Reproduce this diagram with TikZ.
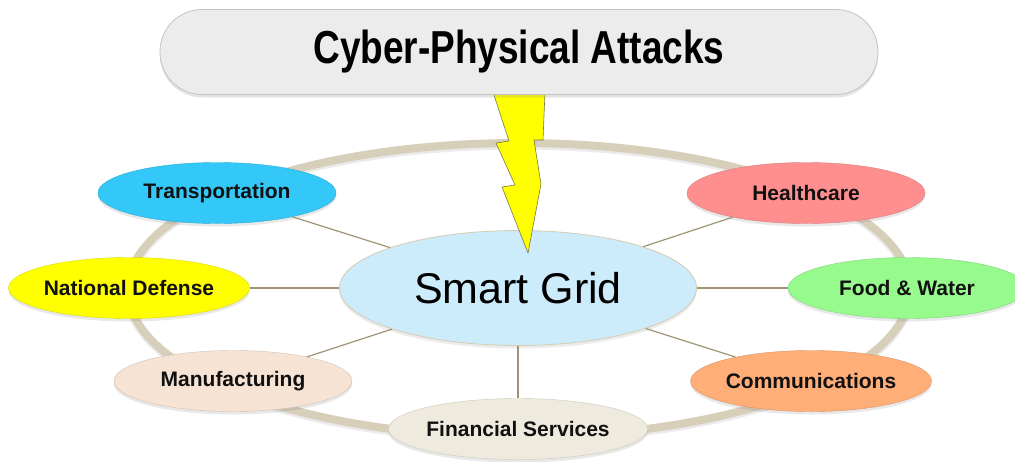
\documentclass[tikz,border=0pt]{standalone}
\usepackage{fontspec}
\usepackage{graphicx}
\setmainfont{Liberation Sans}
\usetikzlibrary{shapes.geometric,shadows}
\definecolor{ringc}{RGB}{216,207,186}
\definecolor{connc}{RGB}{160,148,118}
\definecolor{sgfill}{RGB}{204,235,251}
\definecolor{sgdraw}{RGB}{214,204,178}
\definecolor{trfill}{RGB}{51,200,248}
\definecolor{ndfill}{RGB}{255,255,0}
\definecolor{mafill}{RGB}{247,227,211}
\definecolor{fsfill}{RGB}{239,234,222}
\definecolor{hcfill}{RGB}{255,143,143}
\definecolor{fwfill}{RGB}{150,250,140}
\definecolor{cofill}{RGB}{255,174,120}
\definecolor{boltfill}{RGB}{255,255,0}
\definecolor{boltdraw}{RGB}{120,120,70}
\definecolor{pillfill}{RGB}{236,236,236}
\definecolor{pilldraw}{RGB}{195,195,195}
\definecolor{txt}{RGB}{17,17,17}
\tikzset{
  sat/.style={ellipse, minimum width=238pt, minimum height=61pt, inner sep=0pt,
    draw=#1!85!black, line width=0.4pt, fill=#1, text=txt,
    font=\bfseries\fontsize{21}{24}\selectfont,
    drop shadow={opacity=0.18, shadow xshift=0pt, shadow yshift=-3pt}},
  hub/.style={ellipse, minimum width=357pt, minimum height=115pt, inner sep=0pt,
    draw=sgdraw, line width=0.8pt, fill=sgfill, text=black,
    font=\fontsize{43}{48}\selectfont,
    drop shadow={opacity=0.15, shadow xshift=0pt, shadow yshift=-3pt}},
  conn/.style={draw=connc, line width=1.2pt},
  ringline/.style={draw=ringc, line width=8pt},
  boltshape/.style={fill=boltfill, draw=boltdraw, line width=0.6pt, line join=miter},
  pill/.style={rectangle, rounded corners=42pt, minimum width=718pt, minimum height=85pt,
    inner sep=0pt, fill=pillfill, draw=pilldraw, line width=0.8pt, text=black,
    font=\bfseries\fontsize{37}{42}\selectfont,
    drop shadow={opacity=0.2, shadow xshift=0pt, shadow yshift=-3pt}}
}
\begin{document}
\begin{tikzpicture}[x=1pt,y=-1pt]
\useasboundingbox (0,0) rectangle (1015,461);
\fill[white] (0,0) rectangle (1015,461);
% ring
\draw[draw=black, opacity=0.08, line width=9pt] (519,292) ellipse [x radius=391, y radius=147];
\draw[ringline] (519,290) ellipse [x radius=391, y radius=147];
% nodes
\node[hub] (sg) at (518,288) {Smart Grid};
\node[sat=trfill] (tr) at (217,193) {Transportation};
\node[sat=ndfill] (nd) at (129,288) {National Defense};
\node[sat=mafill] (ma) at (233,381) {Manufacturing};
\node[sat=fsfill] (fs) at (518,429) {Financial Services};
\node[sat=hcfill] (hc) at (806,193) {Healthcare};
\node[sat=fwfill] (fw) at (907,288) {Food \& Water};
\node[sat=cofill] (co) at (811,381) {Communications};
% connectors
\draw[conn] (sg) -- (tr);
\draw[conn] (sg) -- (nd);
\draw[conn] (sg) -- (ma);
\draw[conn] (sg) -- (fs);
\draw[conn] (sg) -- (hc);
\draw[conn] (sg) -- (fw);
\draw[conn] (sg) -- (co);
% lightning bolt
\draw[boltshape] (493,92) -- (545,92) -- (543,140) -- (534,140) -- (541,184)
  -- (528,253) -- (502,187) -- (515,185) -- (496,143) -- (509,141) -- cycle;
% title
\node[pill] (title) at (519,52) {\scalebox{1}[1.25]{Cyber-Physical Attacks}};
\end{tikzpicture}
\end{document}
